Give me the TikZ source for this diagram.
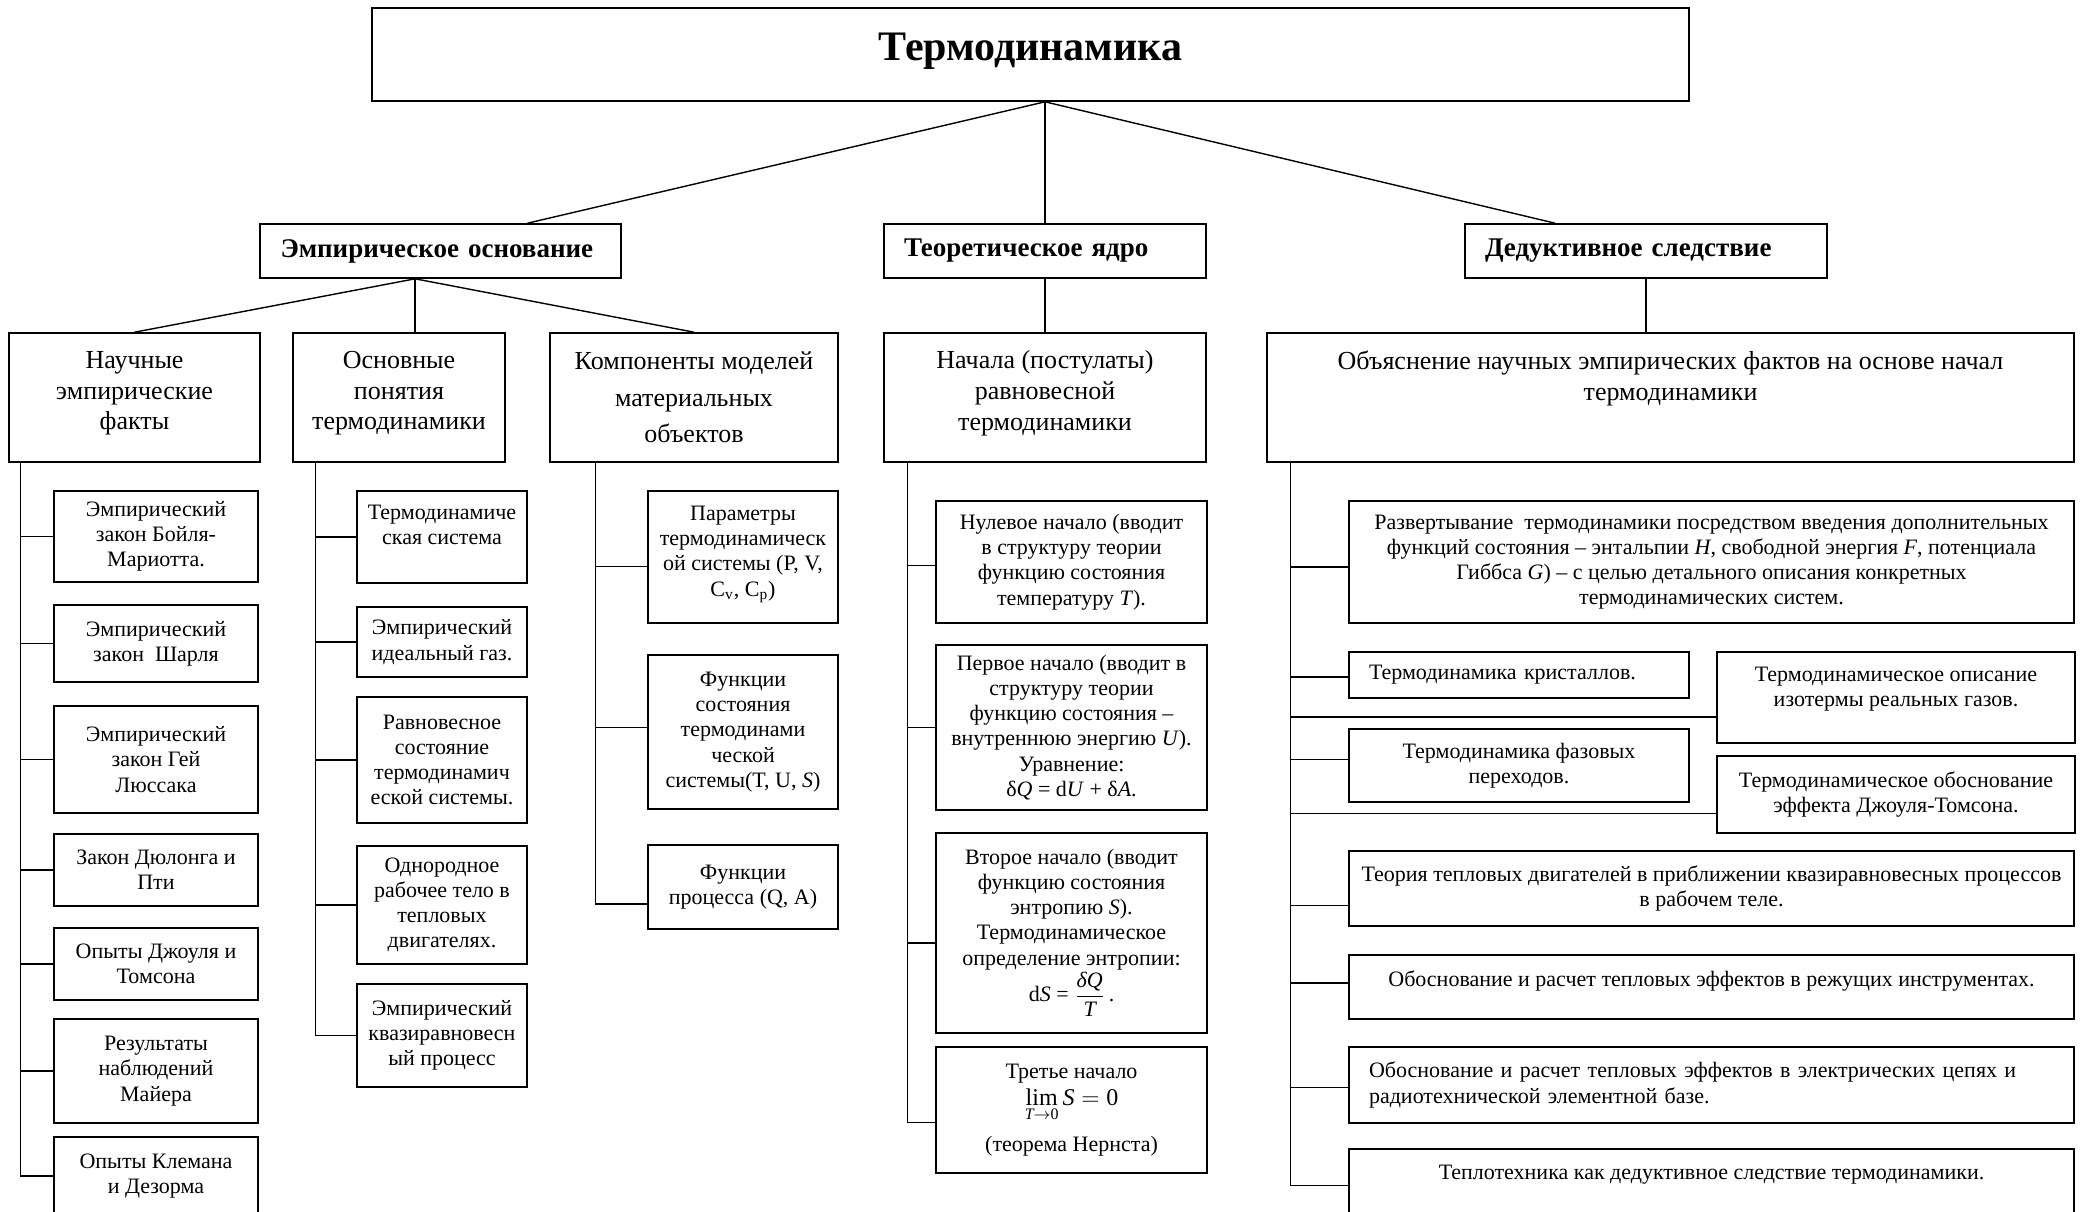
\documentclass[tikz,border=0pt]{standalone}
\usepackage{amsmath}
\usepackage{fontspec}
\setmainfont{Liberation Serif}
\usetikzlibrary{calc}
\newcommand{\lift}[1]{\rule[-#1]{0pt}{#1}}

\begin{document}
\begin{tikzpicture}[
    x=0.5pt, y=-0.5pt,
    cell/.style 2 args={rectangle, draw, line width=0.8pt, align=center, inner sep=2pt,
        minimum width=0.5pt*#1, minimum height=0.5pt*#2},
    root/.style={font=\fontsize{21}{25}\selectfont\bfseries},
    branch/.style={font=\fontsize{13.5}{16}\selectfont\bfseries, align=left, inner xsep=10pt, text width=#1},
    head/.style={font=\fontsize{13}{15.3}\selectfont},
    item/.style={font=\fontsize{11}{12.6}\selectfont},
    leftitem/.style={item, align=left, inner xsep=10pt, text width=#1},
    link/.style={line width=0.7pt}
]
    \useasboundingbox (0,0) rectangle (2082,1211);

    % Root
    \node[cell={1317}{93}, root] (title) at (1030.5,54.5) {Термодинамика\lift{8pt}};

    % Second level
    \node[cell={361}{54}, branch=160pt] (emp) at (440.5,251) {Эмпирическое основание};
    \node[cell={322}{54}, branch=141pt] (teor) at (1045,251) {Теоретическое ядро};
    \node[cell={362}{54}, branch=161pt] (ded) at (1646,251) {Дедуктивное следствие};

    % Third level
    \node[cell={251}{129}, head] (fact) at (134.5,397.5) {Научные\\эмпирические\\факты\lift{7pt}};
    \node[cell={212}{129}, head] (conc) at (399,397.5) {Основные\\понятия\\термодинамики\lift{7pt}};
    \node[cell={288}{129}, head] (comp) at (694,397.5) {Компоненты моделей\\[3pt]материальных\\[3pt]объектов};
    \node[cell={322}{129}, head] (post) at (1045,397.5) {Начала (постулаты)\\равновесной\\термодинамики\lift{7pt}};
    \node[cell={807}{129}, head] (expl) at (1670.5,397.5) {Объяснение научных эмпирических фактов на основе начал\\термодинамики\lift{22pt}};

    % Empirical facts
    \node[cell={204}{91}, item] (f1) at (156,536.5) {Эмпирический\\закон Бойля-\\Мариотта.};
    \node[cell={204}{77}, item] (f2) at (156,643.5) {Эмпирический\\закон~~Шарля};
    \node[cell={204}{107}, item] (f3) at (156,759.5) {Эмпирический\\закон Гей\\Люссака};
    \node[cell={204}{72}, item] (f4) at (156,870) {Закон Дюлонга и\\Пти};
    \node[cell={204}{72}, item] (f5) at (156,964) {Опыты Джоуля и\\Томсона};
    \node[cell={204}{104}, item] (f6) at (156,1071) {Результаты\\наблюдений\\Майера};
    \node[cell={204}{78}, item] (f7) at (156,1176) {Опыты Клемана\\и Дезорма};

    % Basic notions
    \node[cell={170}{92}, item] (c1) at (442,537) {Термодинамиче\\ская система\lift{12pt}};
    \node[cell={170}{70}, item] (c2) at (442,642) {Эмпирический\\идеальный газ.};
    \node[cell={170}{126}, item] (c3) at (442,760) {Равновесное\\состояние\\термодинамич\\еской системы.};
    \node[cell={170}{118}, item] (c4) at (442,905) {Однородное\\рабочее тело в\\тепловых\\двигателях.};
    \node[cell={170}{103}, item] (c5) at (442,1035.5) {Эмпирический\\квазиравновесн\\ый процесс};

    % Model components
    \node[cell={190}{132}, item] (p1) at (743,557) {Параметры\\термодинамическ\\ой системы (P, V,\\C\textsubscript{v}, C\textsubscript{p})\lift{6pt}};
    \node[cell={190}{154}, item] (p2) at (743,732) {Функции\\состояния\\термодинами\\ческой\\системы(T, U, \textit{S})};
    \node[cell={190}{84}, item] (p3) at (743,887) {Функции\\процесса (Q, A)};

    % Postulates
    \node[cell={271}{122}, item] (n0) at (1071.5,562) {Нулевое начало (вводит\\в структуру теории\\функцию состояния\\температуру \textit{T}).};
    \node[cell={271}{165}, item] (n1) at (1071.5,727.5) {Первое начало (вводит в\\структуру теории\\функцию состояния –\\внутреннюю энергию \textit{U}).\\Уравнение:\\δ\textit{Q} = d\textit{U} + δ\textit{A}.};
    \node[cell={271}{200}, item] (n2) at (1071.5,933) {Второе начало (вводит\\функцию состояния\\энтропию \textit{S}).\\Термодинамическое\\определение энтропии:\\d\textit{S} = $\dfrac{\textit{δQ}}{\textit{T}}$\,.};
    \node[cell={271}{126}, item] (n3) at (1071.5,1110) {Третье начало\\[1pt]{\large$\mathop{\textrm{lim}}\limits_{\textit{T}\to\textrm{0}} \textit{S} = \textrm{0}$}\\[6pt](теорема Нернста)};

    % Deductive consequences
    \node[cell={725}{122}, item] (r1) at (1711.5,562) {Развертывание~ термодинамики посредством введения дополнительных\\функций состояния – энтальпии \textit{H}, свободной энергия \textit{F}, потенциала\\Гиббса \textit{G}) – с целью детального описания конкретных\\термодинамических систем.};
    \node[cell={340}{46}, leftitem=150pt] (r2) at (1519,675) {Термодинамика кристаллов.};
    \node[cell={358}{91}, item] (r3) at (1896,697.5) {Термодинамическое описание\\изотермы реальных газов.\lift{11pt}};
    \node[cell={340}{73}, item] (r4) at (1519,765.5) {Термодинамика фазовых\\переходов.};
    \node[cell={358}{77}, item] (r5) at (1896,794.5) {Термодинамическое обоснование\\эффекта Джоуля-Томсона.};
    \node[cell={725}{75}, item] (r6) at (1711.5,888.5) {Теория тепловых двигателей в приближении квазиравновесных процессов\\в рабочем теле.};
    \node[cell={725}{64}, item] (r7) at (1711.5,987) {Обоснование и расчет тепловых эффектов в режущих инструментах.\lift{8pt}};
    \node[cell={725}{76}, leftitem=342.5pt] (r8) at (1711.5,1085) {Обоснование и расчет тепловых эффектов в электрических цепях и\\радиотехнической элементной базе.};
    \node[cell={725}{72}, item] (r9) at (1711.5,1185) {Теплотехника как дедуктивное следствие термодинамики.\lift{13pt}};

    % Connectors from the root
    \coordinate (rootout) at (title.south -| teor.north);
    \coordinate (empin) at ($(emp.north west)!0.74!(emp.north east)$);
    \coordinate (dedin) at ($(ded.north west)!0.25!(ded.north east)$);
    \draw[link] (rootout) -- (empin);
    \draw[link] (rootout) -- (teor.north);
    \draw[link] (rootout) -- (dedin);

    % Connectors to the third level
    \coordinate (empout) at ($(emp.south west)!0.43!(emp.south east)$);
    \draw[link] (empout) -- (fact.north);
    \draw[link] (empout) -- (empout |- conc.north);
    \draw[link] (empout) -- (comp.north);
    \draw[link] (teor.south) -- (post.north);
    \draw[link] (ded.south) -- (ded.south |- expl.north);

    % Trunks
    \coordinate (ft) at ([xshift=6pt]fact.south west);
    \coordinate (ct) at ([xshift=11.5pt]conc.south west);
    \coordinate (kt) at ([xshift=23pt]comp.south west);
    \coordinate (nt) at ([xshift=12pt]post.south west);
    \coordinate (rt) at ([xshift=12pt]expl.south west);

    \foreach \n/\f in {p1/0.57, p2/0.47, p3/0.7, n0/0.53, n1/0.5, n2/0.55, n3/0.6,
        r1/0.54, r2/0.54, r3/0.71, r4/0.42, r5/0.74, r6/0.72, r7/0.44, r8/0.53, r9/0.51}
        \coordinate (s\n) at ($(\n.north west)!\f!(\n.south west)$);

    \draw[link] (ft) -- (ft |- f7.west);
    \foreach \i in {1,...,7} \draw[link] (ft |- f\i.west) -- (f\i.west);

    \draw[link] (ct) -- (ct |- c5.west);
    \foreach \i in {1,...,5} \draw[link] (ct |- c\i.west) -- (c\i.west);

    \draw[link] (kt) -- (kt |- sp3);
    \foreach \n in {p1,p2,p3} \draw[link] (kt |- s\n) -- (s\n);

    \draw[link] (nt) -- (nt |- sn3);
    \foreach \n in {n0,n1,n2,n3} \draw[link] (nt |- s\n) -- (s\n);

    \draw[link] (rt) -- (rt |- sr9);
    \foreach \n in {r1,r2,r3,r4,r5,r6,r7,r8,r9} \draw[link] (rt |- s\n) -- (s\n);
\end{tikzpicture}
\end{document}
